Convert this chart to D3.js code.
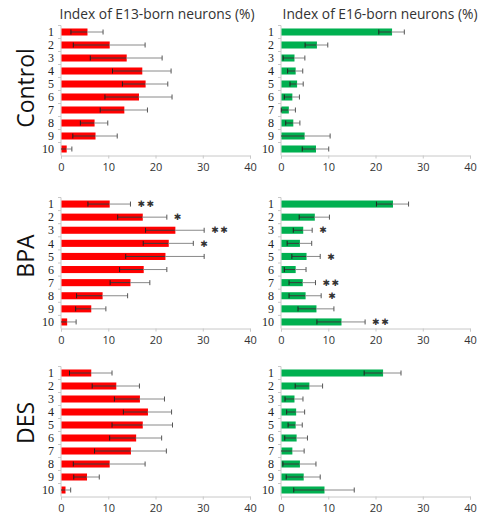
<!DOCTYPE html>
<meta charset="utf-8">
<script src="https://d3js.org/d3.v7.min.js"></script>
<style>
  body { margin: 0; background: #fff; }
</style>
<div class="canvas"></div>
<script>

    const width = 491
    const height = 517

    // categories and labels
    const rows = ["1", "2", "3", "4", "5", "6", "7", "8", "9", "10"]
    const groups = ["Control", "BPA", "DES"]
    const titles = ["Index of E13-born neurons (%)", "Index of E16-born neurons (%)"]
    const xTicks = [0, 10, 20, 30, 40]

    // means and error
    const ctrlE13 = [5.5, 10.2, 13.8, 17.1, 17.8, 16.4, 13.3, 7.0, 7.2, 1.1]
    const ctrlE13Err = [3.4, 7.6, 7.6, 6.2, 4.8, 7.1, 5.0, 2.9, 4.7, 1.2]
    const ctrlE16 = [23.4, 7.5, 2.75, 3.0, 3.3, 2.3, 1.55, 2.5, 4.9, 7.3]
    const ctrlE16Err = [2.7, 2.4, 2.3, 1.6, 1.4, 1.6, 1.5, 1.5, 5.5, 2.8]

    const bpaE13 = [10.2, 17.2, 24.1, 22.7, 22.0, 17.4, 14.6, 8.7, 6.3, 1.2]
    const bpaE13Err = [4.5, 5.2, 6.2, 5.3, 8.3, 5.0, 4.2, 5.4, 3.2, 2.0]
    const bpaE16 = [23.6, 7.05, 4.6, 3.9, 5.3, 3.0, 4.5, 5.1, 7.4, 12.7]
    const bpaE16Err = [3.4, 3.2, 2.0, 2.6, 3.0, 2.3, 2.8, 3.4, 3.8, 5.1]

    const desE13 = [6.3, 11.6, 16.6, 18.3, 17.2, 15.8, 14.7, 10.2, 5.4, 0.85]
    const desE13Err = [4.5, 5.0, 5.3, 5.1, 6.4, 5.5, 7.6, 7.6, 2.7, 1.2]
    const desE16 = [21.5, 5.9, 2.75, 3.1, 3.0, 3.2, 2.3, 3.9, 4.7, 9.1]
    const desE16Err = [3.9, 2.9, 1.9, 1.9, 1.5, 2.4, 2.6, 3.5, 3.6, 6.4]

    // significance marks
    const noSig = ["", "", "", "", "", "", "", "", "", ""]
    const bpaE13Sig = ["**", "*", "**", "*", "", "", "", "", "", ""]
    const bpaE16Sig = ["", "", "*", "", "*", "", "**", "*", "", "**"]

    const colE13 = "#ff0000"
    const colE16 = "#00b050"

    // layout
    const colX = [[61, 250], [281, 470]]
    const titleX = [157, 380]
    const rowY = [[25.5, 155.5], [197.5, 328.5], [366.5, 496.5]]
    const groupY = [88, 256, 423]

    const panels = [
        { g: 0, c: 0, mean: ctrlE13, err: ctrlE13Err, sig: noSig, color: colE13 },
        { g: 0, c: 1, mean: ctrlE16, err: ctrlE16Err, sig: noSig, color: colE16 },
        { g: 1, c: 0, mean: bpaE13, err: bpaE13Err, sig: bpaE13Sig, color: colE13 },
        { g: 1, c: 1, mean: bpaE16, err: bpaE16Err, sig: bpaE16Sig, color: colE16 },
        { g: 2, c: 0, mean: desE13, err: desE13Err, sig: noSig, color: colE13 },
        { g: 2, c: 1, mean: desE16, err: desE16Err, sig: noSig, color: colE16 }
    ]

    const svg = d3.select(".canvas")
                .append("svg")
                .attr("width", width)
                .attr("height", height)

    svg.append("rect").attr("width", width).attr("height", height).attr("fill", "#fff")

    const sans = "'Open Sans', 'Noto Sans', sans-serif"

    // column titles
    titles.forEach((t, i) => {
        svg.append("text")
            .attr("x", titleX[i])
            .attr("y", 19)
            .attr("text-anchor", "middle")
            .style("font-family", sans)
            .style("font-size", "13.8px")
            .style("fill", "#333")
            .text(t)
    })

    // group labels
    groups.forEach((g, i) => {
        svg.append("text")
            .attr("transform", `translate(34,${groupY[i]}) rotate(-90)`)
            .attr("text-anchor", "middle")
            .style("font-family", sans)
            .style("font-size", "23px")
            .style("fill", "#111")
            .text(g)
    })

    panels.forEach(p => {
        const x = d3.scaleLinear().domain([0, 40]).range(colX[p.c])
        const y = d3.scaleBand().domain(rows).range(rowY[p.g]).paddingInner(0.46).paddingOuter(0.23)
        const yb = d3.scaleBand().domain(rows).range(rowY[p.g])

        const graph = svg.append("g")

        // x axis
        const xAxis = d3.axisBottom(x).tickValues(xTicks).tickSize(3).tickPadding(5)
        const gX = graph.append("g")
            .attr("transform", `translate(0,${rowY[p.g][1]})`)
            .call(xAxis)
        gX.select(".domain").attr("stroke", "#c8c8c8")
        gX.selectAll(".tick line").attr("stroke", "#c8c8c8")
        gX.selectAll("text")
            .style("font-family", sans)
            .style("font-size", "11px")
            .style("fill", "#333")

        // y axis line with ticks at band edges
        graph.append("line")
            .attr("x1", x(0)).attr("x2", x(0))
            .attr("y1", rowY[p.g][0]).attr("y2", rowY[p.g][1])
            .attr("stroke", "#c8c8c8")
        graph.selectAll(".ytick").data(rows)
            .enter().append("line")
            .attr("x1", x(0) - 3).attr("x2", x(0))
            .attr("y1", d => yb(d)).attr("y2", d => yb(d))
            .attr("stroke", "#c8c8c8")

        graph.selectAll(".ylab").data(rows)
            .enter().append("text")
            .attr("x", x(0) - 7)
            .attr("y", d => yb(d) + yb.bandwidth() / 2)
            .attr("dy", "0.35em")
            .attr("text-anchor", "end")
            .style("font-family", "'Liberation Serif', serif")
            .style("font-size", "12px")
            .style("fill", "#222")
            .text(d => d)

        const data = rows.map((r, i) => ({ r: r, m: p.mean[i], e: p.err[i], s: p.sig[i] }))

        // bars
        graph.selectAll(".bar").data(data)
            .enter().append("rect")
            .attr("x", x(0) + 0.5)
            .attr("y", d => y(d.r))
            .attr("width", d => x(d.m) - x(0))
            .attr("height", y.bandwidth())
            .attr("fill", p.color)

        const cy = d => yb(d.r) + yb.bandwidth() / 2
        const lo = d => x(Math.max(0, d.m - d.e))
        const hi = d => x(d.m + d.e)

        // error bars: inner part dark, outer part gray
        graph.selectAll(".errIn").data(data)
            .enter().append("line")
            .attr("x1", lo).attr("x2", d => x(d.m))
            .attr("y1", cy).attr("y2", cy)
            .attr("stroke", "#3a3a3a").attr("stroke-width", 1)
        graph.selectAll(".errOut").data(data)
            .enter().append("line")
            .attr("x1", d => x(d.m)).attr("x2", hi)
            .attr("y1", cy).attr("y2", cy)
            .attr("stroke", "#8a8a8a").attr("stroke-width", 1)
        graph.selectAll(".capHi").data(data)
            .enter().append("line")
            .attr("x1", hi).attr("x2", hi)
            .attr("y1", d => cy(d) - 2.5).attr("y2", d => cy(d) + 2.5)
            .attr("stroke", "#555")
        graph.selectAll(".capLo").data(data.filter(d => d.m - d.e > 0))
            .enter().append("line")
            .attr("x1", lo).attr("x2", lo)
            .attr("y1", d => cy(d) - 2.5).attr("y2", d => cy(d) + 2.5)
            .attr("stroke", "#222")

        // significance stars
        graph.selectAll(".sig").data(data.filter(d => d.s))
            .enter().append("text")
            .attr("x", d => hi(d) + 7)
            .attr("y", cy)
            .attr("dy", "0.35em")
            .style("font-family", "'DejaVu Sans', sans-serif")
            .style("font-size", "9px")
            .style("letter-spacing", "1.5px")
            .style("fill", "#333")
            .text(d => d.s.replace(/\*/g, "\u2731"))
    })

</script>
